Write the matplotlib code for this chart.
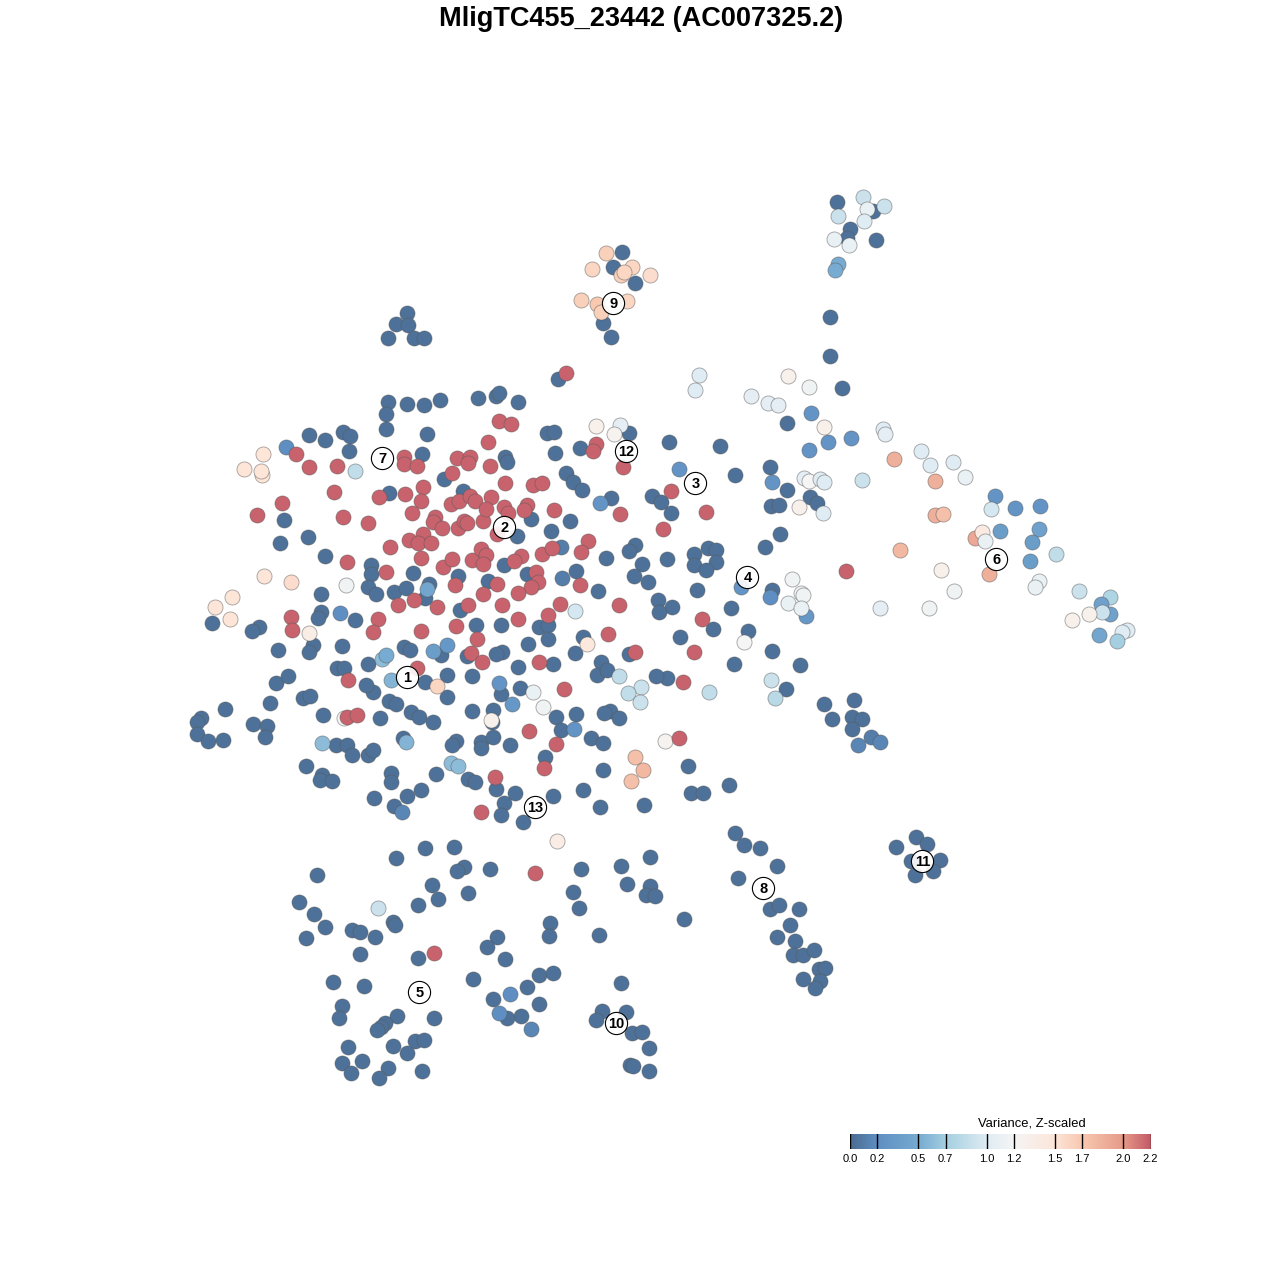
import numpy as np
import matplotlib
matplotlib.use("Agg")
import matplotlib.pyplot as plt
from matplotlib.colors import LinearSegmentedColormap, Normalize

plt.rcParams['font.family'] = ['Liberation Sans', 'DejaVu Sans']

title = "MligTC455_23442 (AC007325.2)"
legend_title = "Variance, Z-scaled"
tick_values = [0.0, 0.2, 0.5, 0.7, 1.0, 1.2, 1.5, 1.7, 2.0, 2.2]
tick_labels = ["0.0", "0.2", "0.5", "0.7", "1.0", "1.2", "1.5", "1.7", "2.0", "2.2"]

# Embedding positions (low-variance cells)
low_xy = [
 (837,202),(873,211),(850,229),(847,238),(876,240),(830,317),(830,356),(842,388),
 (622,252),(613,267),(635,283),(603,323),(611,337),
 (407,313),(396,324),(408,325),(388,338),(414,338),(424,338),(558,379),
 (478,398),(496,396),(499,393),(518,402),(388,402),(407,404),(424,405),(440,400),(386,414),(386,429),
 (427,434),(309,435),(325,440),(343,432),(350,436),(349,451),(422,454),(444,479),(463,491),(389,493),
 (284,520),(308,537),(280,543),(325,556),(371,565),(371,574),(413,573),(458,576),(368,587),(376,594),
 (321,594),(394,592),(406,588),(429,584),(425,598),(460,610),(321,612),(318,618),(355,620),(212,623),
 (259,627),(252,631),(278,650),(313,645),(309,652),(342,646),(368,664),(337,668),(344,668),
 (404,647),(410,650),(441,655),(467,656),(276,683),(288,676),(447,675),(472,676),
 (547,433),(554,432),(629,433),(555,453),(580,448),(669,442),(505,457),(507,462),(566,473),(573,482),
 (582,490),(531,519),(570,521),(551,531),(517,536),(611,498),(652,496),(661,502),(671,513),
 (635,545),(629,551),(606,558),(667,559),(694,554),(694,565),(642,564),(634,576),(648,582),
 (576,571),(598,591),(488,581),(527,574),(504,565),(658,600),(672,607),(659,612),
 (539,627),(548,625),(476,625),(501,625),(548,639),(528,644),(583,637),(680,637),
 (575,653),(601,662),(629,654),(502,652),(496,654),
 (720,446),(735,475),(770,467),(787,423),(787,490),(771,506),(779,505),(810,497),(817,503),(780,534),
 (765,547),(708,548),(716,550),(716,562),(706,570),(731,608),(772,590),(748,631),(713,629),(697,590),
 (734,664),(772,651),(800,665),(786,689),(667,678),(656,676),
 (610,711),(604,713),(619,718),(576,714),(556,717),(561,730),(591,738),(603,743),(597,675),(607,670),
 (493,710),(492,722),(472,711),(447,697),(518,667),(553,664),(520,688),(501,694),
 (411,712),(419,717),(433,722),(380,718),(389,701),(396,704),(373,692),(366,685),(425,682),
 (303,698),(310,696),(270,703),(323,715),(225,709),(201,718),(197,722),(197,734),(208,741),(223,740),
 (253,724),(267,726),(265,737),(336,745),(347,745),(352,755),(368,755),(373,750),(403,738),
 (456,741),(452,745),(481,742),(481,748),(510,745),(493,737),(545,757),(306,766),(322,775),(320,780),
 (332,781),(391,773),(391,782),(436,774),(468,779),(475,782),(496,789),(515,793),(504,803),(501,815),
 (523,822),(553,796),(583,790),(600,807),(603,770),(644,805),(688,766),(691,793),(703,793),(729,785),
 (407,796),(421,790),(374,798),(394,806),
 (735,833),(744,845),(760,848),(777,866),(738,878),(770,909),(779,905),(799,909),(790,925),(777,937),
 (795,941),(793,955),(803,955),(814,950),(819,969),(825,968),(820,981),(803,979),(815,988),
 (916,837),(927,844),(896,847),(911,861),(940,860),(933,871),(915,875),
 (396,858),(425,848),(454,847),(464,867),(457,871),(490,869),(581,869),(621,866),(650,857),(627,884),
 (650,886),(646,895),(655,896),(573,892),(579,908),(684,919),(317,875),(432,885),(438,899),(418,905),
 (468,893),(299,902),(314,914),(325,927),(306,938),(352,930),(360,932),(375,937),(393,922),(395,925),
 (360,954),(418,958),(550,923),(549,936),(497,937),(487,947),(505,959),(599,935),(473,979),(539,975),
 (553,973),(527,987),(539,1004),(493,999),(521,1016),(507,1018),(333,982),(364,986),(342,1006),(339,1018),
 (434,1018),(397,1016),(385,1023),(381,1027),(377,1030),(348,1047),(393,1046),(415,1041),(424,1040),
 (407,1053),(342,1063),(362,1061),(351,1073),(388,1068),(379,1078),(422,1071),(621,983),(602,1011),
 (626,1012),(596,1020),(632,1033),(642,1032),(649,1048),(630,1065),(633,1066),(649,1071),
 (824,704),(854,700),(832,719),(852,717),(862,719),(852,729),
]
low_x = [p[0] for p in low_xy]
low_y = [p[1] for p in low_xy]

# Intermediate cells: x, y, variance
mid_x = [863,884,867,838,864,834,849,838,835,
 606,592,632,650,621,624,581,597,627,601,
 286,355,263,244,262,261,346,264,291,232,215,230,340,309,382,386,391,
 596,620,614,679,427,600,561,562,575,587,
 772,809,828,851,811,741,770,806,
 699,695,751,768,778,809,788,824,883,885,921,930,953,965,862,804,809,820,824,823,799,
 894,935,935,943,975,982,985,900,941,989,954,929,880,1039,1035,995,1015,1040,1039,1000,1032,1030,1056,991,
 1079,1110,1101,1110,1102,1089,1072,1127,1122,1117,1099,
 792,801,803,788,801,744,771,775,709,665,635,643,631,
 619,641,628,640,533,543,491,499,512,574,433,447,
 344,437,322,406,451,458,402,858,871,880,510,499,531,378,557]
mid_y = [197,206,209,216,221,239,245,264,270,
 253,269,267,275,275,272,300,304,301,312,
 447,471,454,469,475,471,585,576,582,597,607,619,613,633,659,655,680,
 426,425,434,469,589,503,547,578,611,644,
 482,450,442,438,413,587,597,616,
 375,390,396,403,405,387,376,427,429,434,451,465,462,477,480,478,481,479,482,513,507,
 459,481,515,514,538,532,541,550,570,574,591,608,608,581,587,496,508,506,529,531,542,561,554,509,
 591,597,604,614,612,614,620,630,632,641,635,
 579,593,595,603,608,642,680,698,692,741,757,770,781,
 676,687,693,702,692,707,720,683,704,729,651,645,
 718,686,743,742,763,766,812,745,737,742,994,1013,1029,908,841]
mid_var = [0.9,0.9,1.1,0.9,1.0,1.1,1.1,0.5,0.5,
 1.65,1.6,1.6,1.55,1.65,1.6,1.65,1.7,1.6,1.65,
 0.2,0.85,1.5,1.5,1.5,1.5,1.15,1.5,1.55,1.5,1.5,1.5,0.2,1.35,0.6,0.5,0.55,
 1.3,1.05,1.25,0.25,0.45,0.25,0.1,0.1,0.95,1.45,
 0.25,0.25,0.25,0.25,0.25,0.25,0.2,0.3,
 1.0,1.0,1.05,1.05,1.05,1.15,1.3,1.3,1.0,1.05,1.0,1.0,1.0,1.1,0.9,1.05,1.2,1.0,1.0,1.0,1.3,
 1.85,1.85,1.85,1.75,1.9,1.4,1.1,1.8,1.3,1.85,1.15,1.15,1.05,1.1,1.1,0.25,0.25,0.25,0.4,0.35,0.35,0.35,0.85,0.95,
 0.9,0.75,0.4,0.4,0.9,1.3,1.3,1.0,1.0,0.7,0.45,
 1.15,1.15,1.15,1.1,1.1,1.2,0.9,0.8,0.85,1.25,1.75,1.8,1.75,
 0.85,0.9,0.85,0.9,1.1,1.15,1.3,0.25,0.3,0.25,0.35,0.3,
 1.2,1.6,0.6,0.55,0.6,0.6,0.15,0.15,0.1,0.15,0.2,0.2,0.15,0.9,1.35]

# High-variance cells
high_xy = [
 (566,373),(499,421),(511,424),(596,444),(593,451),(488,442),(623,467),(296,454),(309,467),(337,466),
 (404,457),(404,464),(417,466),(457,458),(470,457),(468,463),(452,473),(490,466),(505,483),(533,485),
 (542,483),(379,497),(405,494),(423,487),(421,501),(334,492),(282,503),(257,515),(343,517),(368,523),
 (412,513),(451,504),(459,501),(470,496),(475,501),(435,517),(433,522),(442,528),(458,528),(464,521),
 (467,523),(483,521),(491,497),(486,509),(504,507),(508,513),(527,505),(524,510),(554,510),(620,514),
 (671,491),(663,529),(497,534),(390,547),(409,540),(423,534),(418,543),(431,543),(421,558),(443,567),
 (452,559),(472,560),(481,549),(486,555),(483,564),(347,562),(386,572),(521,556),(514,561),(542,554),
 (552,548),(588,541),(581,552),(580,585),(455,585),(497,584),(536,572),(538,582),(531,587),(518,593),
 (483,594),(414,600),(398,605),(437,607),(468,605),(502,605),(560,604),(619,605),(548,615),(518,619),
 (456,626),(421,631),(477,639),(608,634),(291,617),(292,630),(378,619),(373,632),(471,653),(482,662),
 (539,662),(417,668),(348,680),(635,652),(694,652),(706,512),(702,619),(683,682),(679,738),
 (846,571),(564,689),(347,717),(357,715),(529,731),(556,744),(544,768),(495,777),(481,812),(434,953),(535,873),
]
high_x = [p[0] for p in high_xy]
high_y = [p[1] for p in high_xy]

cluster_ids = ["1","2","3","4","5","6","7","8","9","10","11","12","13"]
cluster_x = [407,504,695,747,419,996,382,763,613,616,922,626,535]
cluster_y = [677,527,483,577,992,559,458,888,303,1023,861,451,807]

LOW_VALUE, HIGH_VALUE = 0.03, 2.17

stops = [(0.0,'#4a6c92'),(0.2,'#5f8fc2'),(0.5,'#77abd1'),(0.7,'#a5cfe1'),(1.0,'#dfecf3'),
         (1.2,'#f5f5f5'),(1.5,'#fde5d8'),(1.7,'#f8c8b0'),(2.0,'#e69a88'),(2.2,'#c45a68')]
cmap = LinearSegmentedColormap.from_list("var", [(v / 2.2, c) for v, c in stops])
norm = Normalize(0, 2.2)

fig = plt.figure(figsize=(12.8, 12.8), dpi=100)
ax = fig.add_axes([0, 0, 1, 1])
ax.set_xlim(-0.5, 1279.5)
ax.set_ylim(1279.5, -0.5)
ax.axis('off')

all_x = low_x + mid_x + high_x
all_y = low_y + mid_y + high_y
all_v = [LOW_VALUE] * len(low_x) + mid_var + [HIGH_VALUE] * len(high_x)
ax.scatter(all_x, all_y, c=all_v, cmap=cmap, norm=norm, s=118,
           edgecolors=[(0.35, 0.35, 0.35, 0.55)], linewidths=0.6, zorder=2)

ax.scatter(cluster_x, cluster_y, s=255, c='white', alpha=0.9, edgecolors='none', zorder=3)
ax.scatter(cluster_x, cluster_y, s=255, facecolors='none', edgecolors='black', linewidths=0.8, zorder=4)
for cid, cx, cy in zip(cluster_ids, cluster_x, cluster_y):
    ax.text(cx, cy + 0.5, cid, ha='center', va='center', fontsize=10.5, fontweight='bold', color='black', zorder=5)

ax.text(640.5, 18, title, ha='center', va='center', fontsize=19.5, fontweight='bold', color='black')

# Colour bar
cax = fig.add_axes([850 / 1280, 1 - 1149 / 1280, 300.5 / 1280, 15 / 1280])
grad = np.linspace(0, 2.2, 512)[None, :]
cax.imshow(grad, aspect='auto', cmap=cmap, norm=norm, extent=[0, 2.2, 0, 1])
cax.set_xlim(0, 2.2)
cax.set_ylim(0, 1)
for s in cax.spines.values():
    s.set_visible(False)
cax.set_yticks([])
cax.set_xticks(tick_values)
cax.set_xticklabels(tick_labels, fontsize=8)
cax.tick_params(axis='x', length=0, pad=3.5)
for v in tick_values:
    cax.axvline(v, color='black', lw=1.0)
ax.text(1031, 1122.5, legend_title, ha='center', va='center', fontsize=9.4)

fig.savefig("out.png", dpi=100, facecolor='white')
